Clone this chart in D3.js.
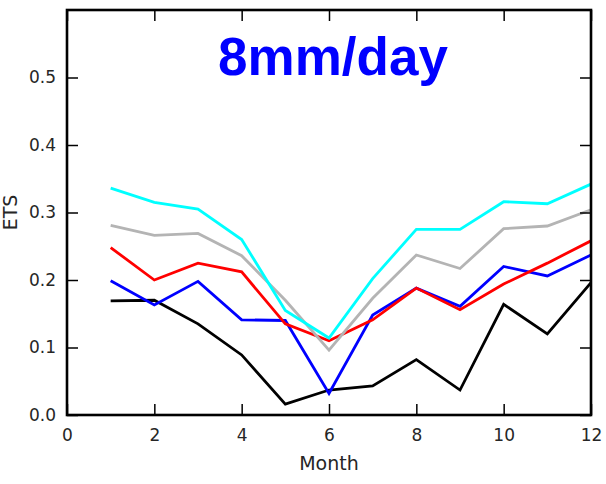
<!DOCTYPE html>
<html>
<head>
<meta charset="utf-8">
<script src="https://cdn.jsdelivr.net/npm/d3@7"></script>
<style>
  html, body { margin: 0; padding: 0; background: #fff; }
  svg { display: block; }
</style>
</head>
<body>
<svg id="chart" width="606" height="484"></svg>
<script>
const months = [1, 2, 3, 4, 5, 6, 7, 8, 9, 10, 11, 12];
const cyanSeries  = [0.336, 0.315, 0.305, 0.260, 0.155, 0.114, 0.202, 0.275, 0.275, 0.316, 0.313, 0.342];
const graySeries  = [0.281, 0.266, 0.269, 0.236, 0.170, 0.096, 0.173, 0.237, 0.217, 0.276, 0.280, 0.304];
const redSeries   = [0.248, 0.200, 0.225, 0.212, 0.135, 0.110, 0.141, 0.188, 0.156, 0.194, 0.225, 0.258];
const blueSeries  = [0.199, 0.163, 0.198, 0.141, 0.140, 0.032, 0.148, 0.188, 0.161, 0.220, 0.206, 0.237];
const blackSeries = [0.169, 0.170, 0.135, 0.089, 0.016, 0.037, 0.043, 0.082, 0.037, 0.164, 0.120, 0.196];
const xTicks = [0, 2, 4, 6, 8, 10, 12];
const yTicks = [0.0, 0.1, 0.2, 0.3, 0.4, 0.5];
const titleText = "8mm/day";
const xLabel = "Month";
const yLabel = "ETS";

const series = [
  { name: "black", values: blackSeries, color: "#000000" },
  { name: "blue", values: blueSeries, color: "#0000ff" },
  { name: "red", values: redSeries, color: "#ff0000" },
  { name: "gray", values: graySeries, color: "#b4b4b4" },
  { name: "cyan", values: cyanSeries, color: "#00ffff" }
];

const svg = d3.select("#chart");
const mLeft = 67, mRight = 591, mTop = 10, mBottom = 415;
const x = d3.scaleLinear().domain([0, 12]).range([mLeft, mRight]);
const y = d3.scaleLinear().domain([0, 0.6]).range([mBottom, mTop]);
const font = "'DejaVu Sans', sans-serif";
const textColor = "#262626";

// lines
const line = d3.line().x((d, i) => x(months[i])).y(d => y(d));
svg.append("defs").append("clipPath").attr("id", "clip")
  .append("rect").attr("x", mLeft).attr("y", mTop).attr("width", mRight - mLeft).attr("height", mBottom - mTop);
const g = svg.append("g").attr("clip-path", "url(#clip)");
series.forEach(s => {
  g.append("path").datum(s.values)
    .attr("d", line)
    .attr("fill", "none")
    .attr("stroke", s.color)
    .attr("stroke-width", 2.8)
    .attr("stroke-linejoin", "miter");
});

// axes with inside ticks
const tickLen = 11;
const axB = d3.axisBottom(x).tickValues(xTicks).tickSize(-tickLen).tickPadding(14).tickFormat(d3.format("d"));
const axT = d3.axisTop(x).tickValues(xTicks).tickSize(-tickLen).tickFormat("");
const axL = d3.axisLeft(y).tickValues(yTicks).tickSize(-tickLen).tickPadding(11).tickFormat(d3.format(".1f"));
const axR = d3.axisRight(y).tickValues(yTicks).tickSize(-tickLen).tickFormat("");

function style(sel) {
  sel.select(".domain").remove();
  sel.selectAll(".tick line").attr("stroke", "#000").attr("stroke-width", 1.5);
  sel.selectAll(".tick text").attr("fill", textColor).style("font-family", font).style("font-size", "17px");
}
svg.append("g").attr("transform", `translate(0,${mBottom})`).call(axB).call(style);
svg.append("g").attr("transform", `translate(0,${mTop})`).call(axT).call(style);
svg.append("g").attr("transform", `translate(${mLeft},0)`).call(axL).call(style);
svg.append("g").attr("transform", `translate(${mRight},0)`).call(axR).call(style);

// frame
svg.append("rect")
  .attr("x", mLeft).attr("y", mTop)
  .attr("width", mRight - mLeft).attr("height", mBottom - mTop)
  .attr("fill", "none").attr("stroke", "#000").attr("stroke-width", 2.6);

// labels
svg.append("text")
  .attr("x", (mLeft + mRight) / 2).attr("y", 470)
  .attr("text-anchor", "middle")
  .attr("fill", textColor)
  .style("font-family", font).style("font-size", "19px")
  .text(xLabel);

svg.append("text")
  .attr("transform", `translate(17,${(mTop + mBottom) / 2}) rotate(-90)`)
  .attr("text-anchor", "middle")
  .attr("fill", textColor)
  .style("font-family", font).style("font-size", "19px")
  .text(yLabel);

svg.append("text")
  .attr("x", 333).attr("y", 75)
  .attr("text-anchor", "middle")
  .attr("fill", "#0000ff")
  .style("font-family", "'Liberation Sans', Arial, sans-serif")
  .style("font-weight", "bold")
  .style("font-size", "53px")
  .text(titleText);
</script>
</body>
</html>
